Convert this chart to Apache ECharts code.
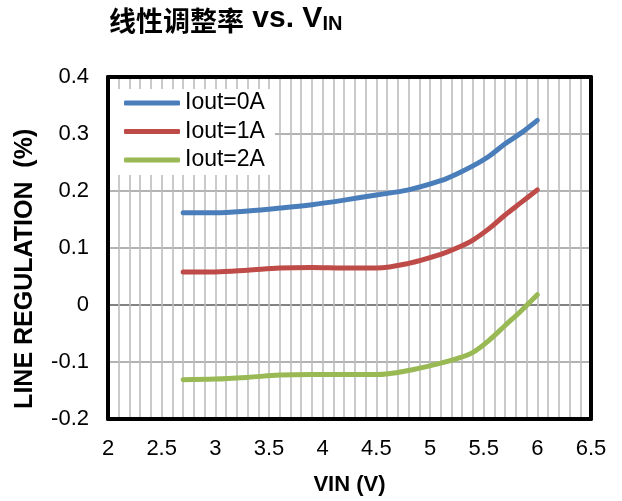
<!DOCTYPE html>
<html><head><meta charset="utf-8">
<script src="https://cdn.jsdelivr.net/npm/echarts@6/dist/echarts.min.js"></script>
<style>html,body{margin:0;padding:0;background:#fff}#c{width:622px;height:501px}</style>
</head><body><div id="c"></div>
<script>
const vin = [2.7, 3.0, 3.3, 3.6, 3.9, 4.2, 4.5, 4.8, 5.1, 5.25, 5.4, 5.55, 5.7, 5.85, 6.0];
const iout0 = [0.162, 0.162, 0.165, 0.170, 0.176, 0.184, 0.193, 0.202, 0.218, 0.230, 0.244, 0.261, 0.283, 0.302, 0.324];
const iout1 = [0.058, 0.058, 0.061, 0.065, 0.066, 0.065, 0.065, 0.073, 0.089, 0.100, 0.114, 0.134, 0.158, 0.180, 0.202];
const iout2 = [-0.131, -0.130, -0.127, -0.123, -0.122, -0.122, -0.122, -0.115, -0.102, -0.094, -0.083, -0.062, -0.036, -0.010, 0.018];
const seriesNames = ['Iout=0A', 'Iout=1A', 'Iout=2A'];
const xTicks = { min: 2, max: 6.5, step: 0.5 };
const yTicks = { min: -0.2, max: 0.4, step: 0.1 };
const colors = ['#4a7ebb', '#be4b48', '#98b954'];
const font = '"Liberation Sans", Arial, sans-serif';

const chart = echarts.init(document.getElementById('c'));
const mk = (name, vals, color, extra) => Object.assign({
  name, type: 'line', smooth: 0.35, showSymbol: false, symbol: 'none',
  xAxisIndex: 0, yAxisIndex: 0,
  data: vin.map((x, i) => [x, vals[i]]),
  lineStyle: { color, width: 5, cap: 'round', join: 'round' }, itemStyle: { color }, z: 5
}, extra || {});
const border = { show: true, onZero: false, lineStyle: { color: '#000', width: 4 } };

chart.setOption({
  animation: false,
  title: {
    left: 104, top: -9,
    text: '{a|线性调整率}{c| vs. V}{b|IN}',
    textStyle: {
      rich: {
        a: { fontFamily: '"Noto Sans CJK SC", sans-serif', fontSize: 27, fontWeight: 'bold', color: '#000', verticalAlign: 'bottom', lineHeight: 38 },
        c: { fontFamily: font, fontSize: 30, fontWeight: 'bold', color: '#000', verticalAlign: 'bottom', lineHeight: 38 },
        b: { fontFamily: font, fontSize: 20, fontWeight: 'bold', color: '#000', verticalAlign: 'bottom', lineHeight: 30 }
      }
    }
  },
  grid: { left: 108, right: 31, top: 77, bottom: 81, show: false },
  legend: {
    left: 110, top: 89, orient: 'vertical', itemWidth: 56, itemHeight: 5, itemGap: 4.5,
    icon: 'roundRect', backgroundColor: '#fff', padding: [2, 10, 3, 14],
    textStyle: { fontFamily: font, fontSize: 23, lineHeight: 24, color: '#000', padding: [0, 0, 0, 0] },
    data: seriesNames
  },
  xAxis: [{
    type: 'value', min: xTicks.min, max: xTicks.max, interval: xTicks.step, position: 'bottom',
    name: 'VIN (V)', nameLocation: 'middle', nameGap: 55,
    nameTextStyle: { fontFamily: font, fontSize: 22, fontWeight: 'bold', color: '#000' },
    axisLine: border, axisTick: { show: false },
    axisLabel: { fontFamily: font, fontSize: 22, color: '#000', margin: 19 },
    splitLine: { show: true, lineStyle: { color: '#bdbdbd', width: 1.6 } },
    minorTick: { show: false, splitNumber: 5 },
    minorSplitLine: { show: true, lineStyle: { color: '#bdbdbd', width: 1.6 } },
    z: 3
  }, {
    type: 'value', min: xTicks.min, max: xTicks.max, position: 'top',
    axisLine: border, axisTick: { show: false }, axisLabel: { show: false }, splitLine: { show: false }, z: 3
  }],
  yAxis: [{
    type: 'value', min: yTicks.min, max: yTicks.max, interval: yTicks.step, position: 'left',
    name: 'LINE REGULATION  (%)      ', nameLocation: 'middle', nameGap: 70,
    nameTextStyle: { fontFamily: font, fontSize: 25, fontWeight: 'bold', color: '#000' },
    axisLine: border, axisTick: { show: false },
    axisLabel: { fontFamily: font, fontSize: 22, color: '#000', margin: 19 },
    splitLine: { show: true, lineStyle: { color: '#9a9a9a', width: 1.6 } },
    z: 3
  }, {
    type: 'value', min: yTicks.min, max: yTicks.max, position: 'right',
    axisLine: border, axisTick: { show: false }, axisLabel: { show: false }, splitLine: { show: false }, z: 3
  }],
  series: [
    mk(seriesNames[0], iout0, colors[0], {
      markLine: { silent: true, symbol: 'none', label: { show: false },
        lineStyle: { color: '#000', width: 1.5, type: 'solid' }, data: [{ yAxis: 0 }], z: 2 }
    }),
    mk(seriesNames[1], iout1, colors[1]),
    mk(seriesNames[2], iout2, colors[2])
  ]
});
</script></body></html>
